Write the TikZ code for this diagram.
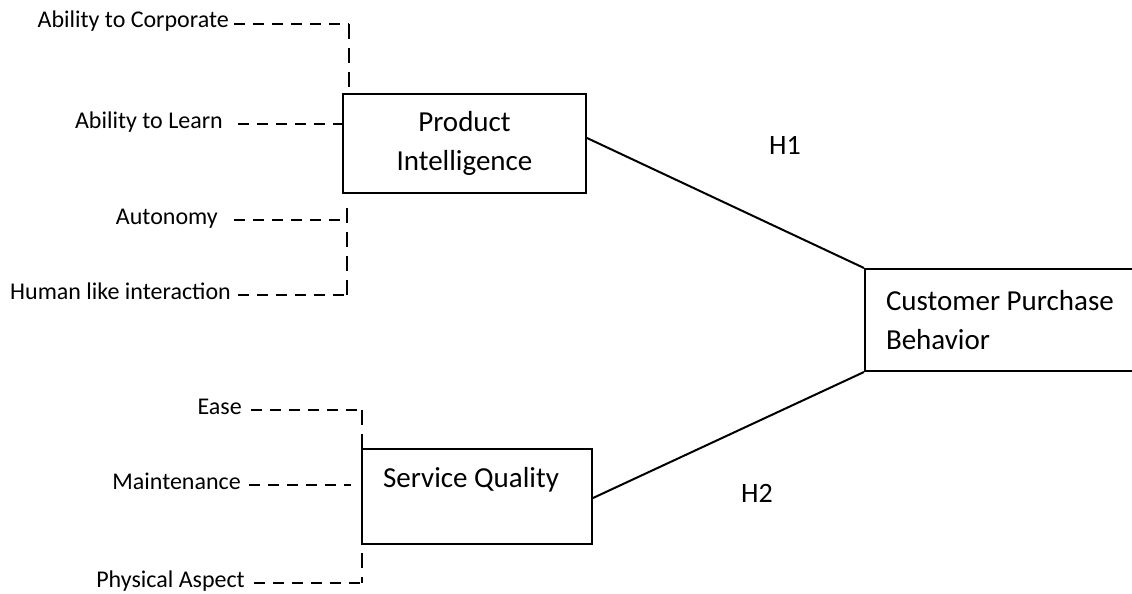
\documentclass[tikz,border=0pt]{standalone}
\usepackage{fontspec}
\setmainfont{Carlito}
\begin{document}
\begin{tikzpicture}[x=1pt,y=-1pt,
  lab/.style={font=\fontsize{24}{29}\selectfont, inner sep=0pt, anchor=base east},
  boxlab/.style={font=\fontsize{29}{39}\selectfont},
  hyp/.style={font=\fontsize{28}{34}\selectfont, inner sep=0pt},
  box/.style={draw, line width=2pt, inner sep=0pt},
  hd/.style={line width=2.3pt, dash pattern=on 11pt off 8pt},
  vd/.style={line width=2.3pt, dash pattern=on 15pt off 9pt},
  conn/.style={line width=2pt}]
\useasboundingbox (0,0) rectangle (1132,594);
\clip (0,0) rectangle (1132,594);

% boxes
\node[box, boxlab, minimum width=243pt, minimum height=99pt, align=center] (pi) at (464.5,143.5) {Product\\Intelligence};
\node[box, boxlab, minimum width=230pt, minimum height=95pt, align=center] (sq) at (477,496.5) {Service Quality\hspace*{12pt}\\\mbox{}};
\node[box, boxlab, anchor=west, minimum height=102pt, text width=258pt, inner xsep=21pt, align=flush left] (cpb) at (864,320) {Customer Purchase\\Behavior};

% hypothesis labels
\node[hyp] (h1) at (785,145) {H1};
\node[hyp] (h2) at (757,493) {H2};

% indicator labels
\node[lab] (acorp) at (229,28) {Ability to Corporate};
\node[lab] (alearn) at (223,128) {Ability to Learn};
\node[lab] (auton) at (218,224) {Autonomy};
\node[lab] (human) at (231,299) {Human like interaction};
\node[lab] (ease) at (242,414) {Ease};
\node[lab] (maint) at (241,489) {Maintenance};
\node[lab] (phys) at (245,587) {Physical Aspect};

% corner coordinates
\coordinate (k1) at (349,24);
\coordinate (k2) at (347,220);
\coordinate (k2t) at (347,208);
\coordinate (k3) at (347,295);
\coordinate (k4) at (362,410);
\coordinate (k5) at (362,583);
\coordinate (k5t) at (362,553);

% product intelligence indicators
\draw[hd] ([xshift=5pt,yshift=4pt]acorp.base east) -- (k1);
\draw[vd] (k1) -- (k1 |- pi.north);
\draw[hd] ([xshift=15pt,yshift=4pt]alearn.base east) -- ([yshift=4pt]alearn.base east -| pi.west);
\draw[hd] ([xshift=16pt,yshift=4pt]auton.base east) -- (k2);
\draw[vd] (k2t) -- (k3);
\draw[hd] ([xshift=7pt,yshift=4pt]human.base east) -- (k3);

% service quality indicators
\draw[hd] ([xshift=9pt,yshift=4pt]ease.base east) -- (k4);
\draw[vd] (k4) -- (k4 |- sq.north);
\draw[hd] ([xshift=8pt,yshift=4pt]maint.base east) -- ([xshift=-10pt,yshift=4pt]maint.base east -| sq.west);
\draw[vd] (k5t) -- (k5);
\draw[hd] ([xshift=9pt,yshift=4pt]phys.base east) -- (k5);

% hypothesised paths
\draw[conn] ([yshift=5.5pt]pi.east) -- (cpb.north west);
\draw[conn] ([yshift=-1.5pt]sq.east) -- (cpb.south west);
\end{tikzpicture}
\end{document}
